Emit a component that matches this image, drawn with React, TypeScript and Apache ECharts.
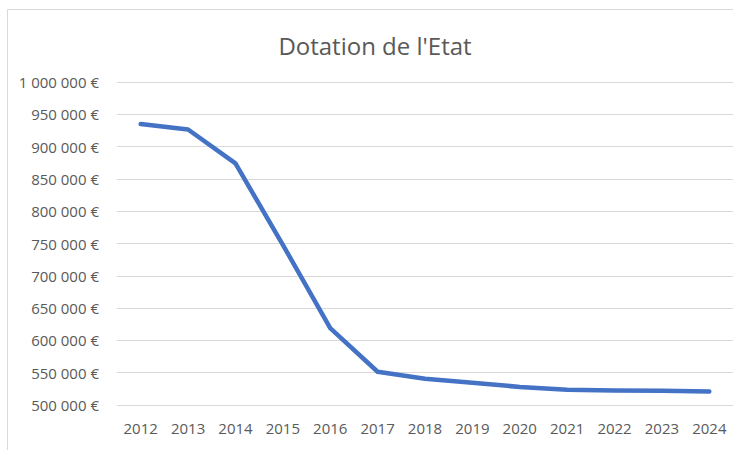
import React, { useEffect, useRef } from "react";
import * as echarts from "echarts";

const years = ["2012","2013","2014","2015","2016","2017","2018","2019","2020","2021","2022","2023","2024"];
const dotation = [935000, 926500, 874000, 748000, 619000, 551500, 540500, 534500, 528000, 523500, 522500, 522000, 520800];
const titleText = "Dotation de l'Etat";

function fmt(v: number): string {
  const s = Math.round(v).toString();
  return s.replace(/\B(?=(\d{3})+(?!\d))/g, " ") + " €";
}

export default function App() {
  const ref = useRef<HTMLDivElement>(null);
  useEffect(() => {
    if (!ref.current) return;
    const chart = echarts.init(ref.current, undefined, { renderer: "svg" });
    chart.setOption({
      animation: false,
      backgroundColor: "#ffffff",
      textStyle: { fontFamily: "Open Sans" },
      title: {
        text: titleText,
        left: 370,
        top: 28,
        textAlign: "center",
        textStyle: { fontFamily: "Open Sans", fontSize: 24, fontWeight: "normal", color: "#595959" },
      },
      graphic: [
        {
          type: "rect",
          shape: { x: 7.5, y: 9.5, width: 800, height: 500 },
          style: { fill: "none", stroke: "#d9d9d9", lineWidth: 1 },
          silent: true,
        },
      ],
      grid: { left: 117, top: 82, width: 624, height: 323, containLabel: false },
      xAxis: {
        type: "category",
        data: years,
        boundaryGap: true,
        axisLine: { show: false },
        axisTick: { show: false },
        axisLabel: { color: "#595959", fontSize: 15, fontFamily: "Open Sans", margin: 15 },
        splitLine: { show: false },
      },
      yAxis: {
        type: "value",
        min: 500000,
        max: 1000000,
        interval: 50000,
        axisLine: { show: false },
        axisTick: { show: false },
        axisLabel: { color: "#595959", fontSize: 15, fontFamily: "Open Sans", margin: 18, formatter: (v: number) => fmt(v) },
        splitLine: { lineStyle: { color: "#d9d9d9", width: 1 } },
      },
      series: [
        {
          type: "line",
          data: dotation,
          symbol: "none",
          lineStyle: { color: "#4472C4", width: 4.5, cap: "round", join: "round" },
        },
      ],
    });
    return () => chart.dispose();
  }, []);
  return <div ref={ref} style={{ position: "absolute", left: 0, top: 0, width: 733, height: 450 }} />;
}
